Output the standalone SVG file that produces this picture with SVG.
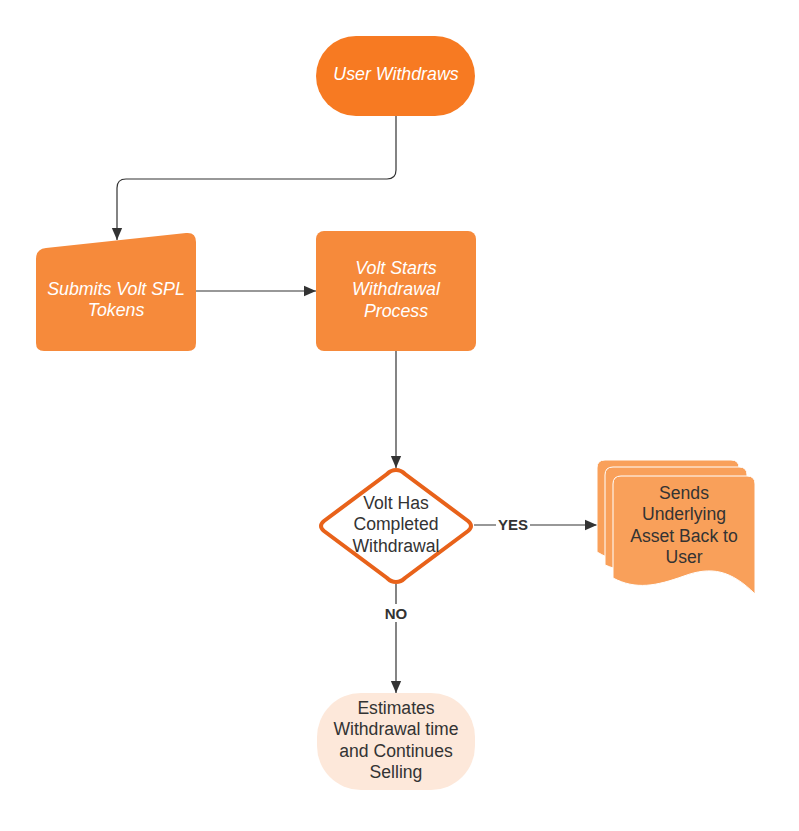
<svg xmlns="http://www.w3.org/2000/svg" width="799" height="831" viewBox="0 0 799 831">
<defs>
<marker id="arr" markerWidth="12" markerHeight="14" refX="14" refY="6" viewBox="0 0 14 12" orient="auto" markerUnits="userSpaceOnUse">
<path d="M0,0 L14,6 L0,12 Z" fill="#333"/>
</marker>
<style>
.edge{fill:none;stroke:#333;stroke-width:1.2}
.wt{font-family:"Liberation Sans",Arial,sans-serif;font-size:17.8px;font-style:italic;fill:#fff;text-anchor:middle}
.dk{font-family:"Liberation Sans",Arial,sans-serif;font-size:17.6px;fill:#333;text-anchor:middle}
.lbl{font-family:"Liberation Sans",Arial,sans-serif;font-size:15px;font-weight:bold;fill:#333;text-anchor:middle}
</style>
</defs>
<rect width="799" height="831" fill="#fff"/>
<g id="connectors">
<path class="edge" d="M396,116 L396,170 Q396,179 387,179 L126,179 Q117,179 117,188 L117,240" marker-end="url(#arr)"/>
<path class="edge" d="M196,291 L316,291" marker-end="url(#arr)"/>
<path class="edge" d="M396,351 L396,468" marker-end="url(#arr)"/>
<path class="edge" d="M474,525 L597,525" marker-end="url(#arr)"/>
<path class="edge" d="M396,584 L396,693" marker-end="url(#arr)"/>
<rect x="496" y="515" width="34" height="18" fill="#fff"/>
<text class="lbl" x="513" y="530">YES</text>
<rect x="380" y="604" width="32" height="18" fill="#fff"/>
<text class="lbl" x="396" y="619">NO</text>
</g>
<g id="user-withdraws">
<rect x="316" y="36" width="159" height="80" rx="40" fill="#f77a22"/>
<text class="wt" x="396" y="80">User Withdraws</text>
</g>
<g id="submits">
<path d="M36,259 Q36,249 46,248 L186,233 Q196,232 196,242 L196,343 Q196,351 188,351 L44,351 Q36,351 36,343 Z" fill="#f68a3b"/>
<text class="wt" x="116" y="295">Submits Volt SPL</text>
<text class="wt" x="116" y="316">Tokens</text>
</g>
<g id="volt-starts">
<rect x="316" y="231" width="160" height="120" rx="8" fill="#f68a3b"/>
<text class="wt" x="396" y="274">Volt Starts</text>
<text class="wt" x="396" y="295">Withdrawal</text>
<text class="wt" x="396" y="317">Process</text>
</g>
<g id="decision">
<path d="M396,470 Q401,470 405,474 L468,521 Q474,526 468,531 L405,578 Q401,582 396,582 Q391,582 387,578 L324,531 Q318,526 324,521 L387,474 Q391,470 396,470 Z" fill="#fff" stroke="#e8621a" stroke-width="4"/>
<text class="dk" x="396" y="509">Volt Has</text>
<text class="dk" x="396" y="530">Completed</text>
<text class="dk" x="396" y="552">Withdrawal</text>
</g>
<g id="sends">
<path d="M597,468 Q597,460 605,460 L731,460 Q739,460 739,468 L739,576 C715,556 695,552 668,560 C640,570 620,565 597,552 Z" fill="#f9a05a" stroke="#fff" stroke-width="1"/>
<path d="M605,475 Q605,467 613,467 L739,467 Q747,467 747,475 L747,585 C723,565 703,561 676,569 C648,579 628,574 605,565 Z" fill="#f9a05a" stroke="#fff" stroke-width="1"/>
<path d="M613,484 Q613,476 621,476 L747,476 Q755,476 755,484 L755,594 C731,570 711,566 684,576 C656,586 636,590 613,578 Z" fill="#f9a05a" stroke="#fff" stroke-width="1"/>
<text class="dk" x="684" y="499">Sends</text>
<text class="dk" x="684" y="520">Underlying</text>
<text class="dk" x="684" y="542">Asset Back to</text>
<text class="dk" x="684" y="563">User</text>
</g>
<g id="estimates">
<rect x="317" y="693" width="158" height="97" rx="44" fill="#fde8da"/>
<text class="dk" x="396" y="714">Estimates</text>
<text class="dk" x="396" y="735">Withdrawal time</text>
<text class="dk" x="396" y="757">and Continues</text>
<text class="dk" x="396" y="778">Selling</text>
</g>
</svg>
